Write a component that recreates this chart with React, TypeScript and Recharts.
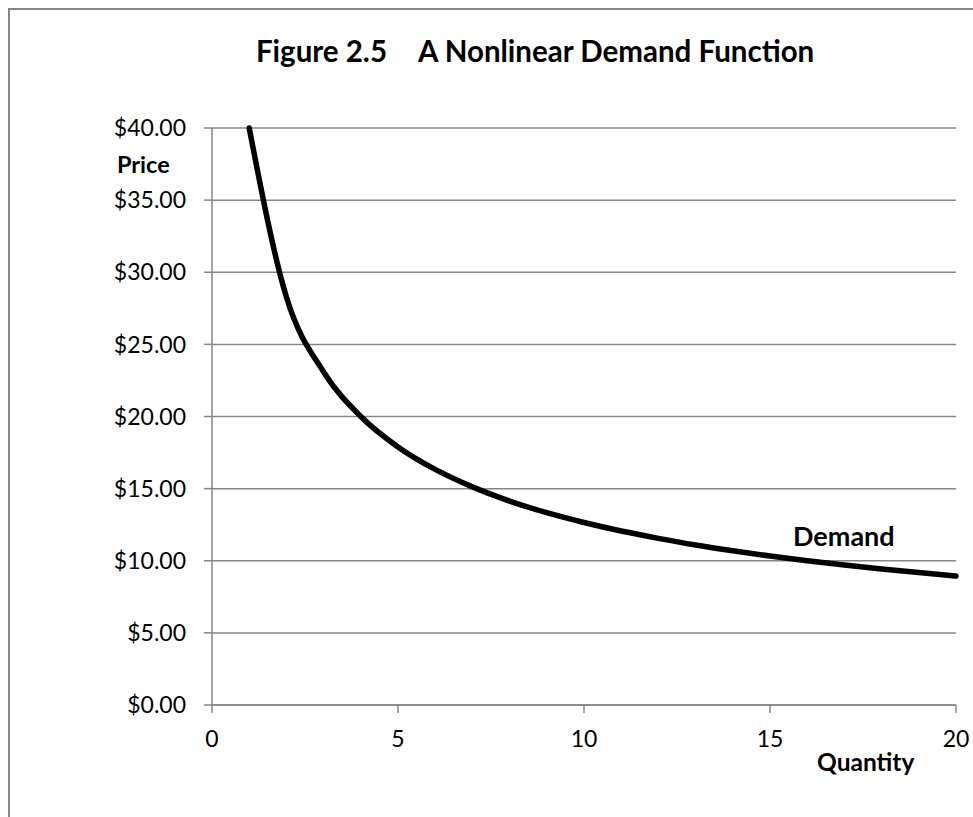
import React from 'react';
import { LineChart, Line, XAxis, YAxis, CartesianGrid } from 'recharts';

const quantities = [1, 2, 3, 4, 5, 6, 7, 8, 9, 10, 11, 12, 13, 14, 15, 16, 17, 18, 19, 20];
const prices = [40, 28.28, 23.09, 20, 17.89, 16.33, 15.12, 14.14, 13.33, 12.65, 12.06, 11.55, 11.09, 10.69, 10.33, 10, 9.7, 9.43, 9.18, 8.94];
const xTicks = [0, 5, 10, 15, 20];
const yTicks = [0, 5, 10, 15, 20, 25, 30, 35, 40];

const data = quantities.map((q, i) => ({ q, p: prices[i] }));

const FONT = 'Lato, "Noto Sans", sans-serif';
const GRAY = '#868686';

export default function App() {
  return (
    <div style={{ position: 'absolute', left: 0, top: 0, width: 973, height: 817, overflow: 'hidden', background: '#fff', fontFamily: FONT }}>
      <div style={{ position: 'absolute', left: 8, top: 8, width: 1100, height: 1100, border: `2px solid ${GRAY}`, boxSizing: 'border-box' }} />
      <div style={{ position: 'absolute', left: 0, top: 0 }}>
        <LineChart width={973} height={817} data={data} margin={{ top: 128, right: 17, bottom: 72, left: 0 }}>
          <CartesianGrid vertical={false} stroke={GRAY} strokeWidth={1.5} />
          <XAxis
            dataKey="q"
            type="number"
            domain={[0, 20]}
            ticks={xTicks}
            height={40}
            tickSize={8}
            tickMargin={18}
            stroke={GRAY}
            strokeWidth={1.5}
            tick={{ fill: '#000', fontSize: 23, fontFamily: FONT }}
          />
          <YAxis
            type="number"
            domain={[0, 40]}
            ticks={yTicks}
            width={212}
            tickSize={8}
            tickMargin={18}
            stroke={GRAY}
            strokeWidth={1.5}
            tickFormatter={(v: number) => `$${v.toFixed(2)}`}
            tick={{ fill: '#000', fontSize: 23, fontFamily: FONT }}
          />
          <Line
            type="monotone"
            dataKey="p"
            stroke="#000"
            strokeWidth={5.5}
            strokeLinecap="round"
            dot={false}
            activeDot={false}
            isAnimationActive={false}
          />
        </LineChart>
      </div>
      <svg width={973} height={817} style={{ position: 'absolute', left: 0, top: 0, pointerEvents: 'none' }}>
        <text x={387} y={62} textAnchor="end" fontFamily={FONT} fontWeight="bold" fontSize={29.5} fill="#000">Figure 2.5</text>
        <text x={418} y={62} textAnchor="start" fontFamily={FONT} fontWeight="bold" fontSize={29.5} fill="#000">A Nonlinear Demand Function</text>
        <text x={117} y={173} fontFamily={FONT} fontWeight="bold" fontSize={23.5} fill="#000">Price</text>
        <text x={817} y={771} fontFamily={FONT} fontWeight="bold" fontSize={24.5} fill="#000">Quantity</text>
        <text x={793} y={546} fontFamily={FONT} fontWeight="bold" fontSize={27} fill="#000">Demand</text>
      </svg>
    </div>
  );
}
